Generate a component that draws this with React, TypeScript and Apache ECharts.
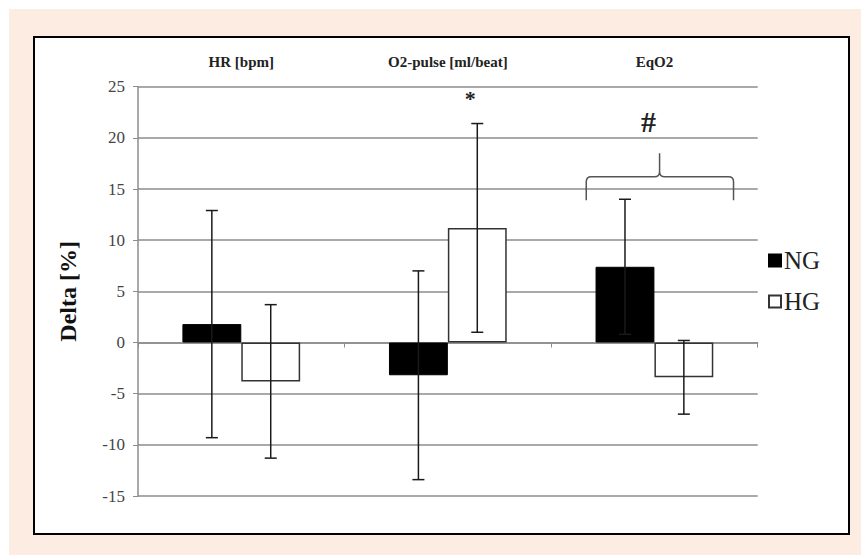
import React, { useEffect, useRef } from "react";
import * as echarts from "echarts";

const categories = ["HR [bpm]", "O2-pulse [ml/beat]", "EqO2"];
const ngMean = [1.8, -3.2, 7.4];
const ngSd = [11.1, 10.2, 6.6];
const hgMean = [-3.8, 11.2, -3.4];
const hgSd = [7.5, 10.2, 3.6];
const yMin = -15;
const yMax = 25;
const yInterval = 5;
// annotations: [categoryIndex, value, text]
const starMark = [1, 23.8, "*"];
const hashMark = [2, 21.6, "#"];
// brace over EqO2: [categoryIndex, tipValue, bodyValue, apexValue]
const braceMark = [2, 13.9, 16.2, 18.5];

const SERIF = "'Liberation Serif', 'Times New Roman', serif";
const BAR_FRAC = 0.285;

export default function App() {
  const ref = useRef<HTMLDivElement>(null);
  useEffect(() => {
    if (!ref.current) return;
    const chart = echarts.init(ref.current, undefined, { renderer: "svg" });

    const errRender = (side: number) => (params: any, api: any) => {
      const idx = api.value(0);
      const mean = api.value(1);
      const sd = api.value(2);
      const catW = api.size([1, 0])[0];
      const cx = api.coord([idx, mean])[0] + (side * catW * BAR_FRAC) / 2;
      const top = api.coord([idx, mean + sd])[1];
      const bot = api.coord([idx, mean - sd])[1];
      const cap = 6;
      const st = { stroke: "#1a1a1a", lineWidth: 1.5 };
      return {
        type: "group",
        children: [
          { type: "line", shape: { x1: cx, y1: top, x2: cx, y2: bot }, style: st },
          { type: "line", shape: { x1: cx - cap, y1: top, x2: cx + cap, y2: top }, style: st },
          { type: "line", shape: { x1: cx - cap, y1: bot, x2: cx + cap, y2: bot }, style: st },
        ],
      };
    };

    const annRender = (params: any, api: any) => {
      const catW = api.size([1, 0])[0];
      const sIdx = starMark[0] as number;
      const sPt = api.coord([sIdx, starMark[1]]);
      const sx = sPt[0] + (catW * BAR_FRAC) / 2 - 7;
      const hIdx = hashMark[0] as number;
      const hPt = api.coord([hIdx, hashMark[1]]);
      const bIdx = braceMark[0] as number;
      const c = api.coord([bIdx, braceMark[2]]);
      const tipY = api.coord([bIdx, braceMark[1]])[1];
      const bodyY = c[1];
      const apexY = api.coord([bIdx, braceMark[3]])[1];
      const left = c[0] - catW * 0.33;
      const right = c[0] + catW * 0.383;
      const apexX = c[0] + catW * 0.025;
      const r = 5;
      const d =
        `M${left},${tipY} L${left},${bodyY + r} Q${left},${bodyY} ${left + r},${bodyY} ` +
        `L${apexX - r},${bodyY} Q${apexX},${bodyY} ${apexX},${bodyY - r} L${apexX},${apexY} ` +
        `M${apexX},${bodyY - r} Q${apexX},${bodyY} ${apexX + r},${bodyY} ` +
        `L${right - r},${bodyY} Q${right},${bodyY} ${right},${bodyY + r} L${right},${tipY}`;
      return {
        type: "group",
        children: [
          {
            type: "path",
            shape: { pathData: d },
            style: { stroke: "#555", lineWidth: 1.5, fill: "none" },
          },
          {
            type: "text",
            x: sx,
            y: sPt[1],
            style: {
              text: starMark[2],
              fontFamily: SERIF,
              fontSize: 22,
              fontWeight: "bold",
              fill: "#222",
              align: "center",
              verticalAlign: "middle",
            },
          },
          {
            type: "text",
            x: hPt[0] - 6,
            y: hPt[1],
            style: {
              text: hashMark[2],
              fontFamily: SERIF,
              fontSize: 30,
              fontWeight: "bold",
              fill: "#222",
              align: "center",
              verticalAlign: "middle",
              backgroundColor: "#fff",
              padding: [0, 8],
            },
          },
        ],
      };
    };

    const option: any = {
      animation: false,
      backgroundColor: "#ffffff",
      graphic: [
        {
          type: "rect",
          z: -10,
          silent: true,
          shape: { x: 9, y: 9, width: 852, height: 546 },
          style: { fill: "#fdece2" },
        },
        {
          type: "rect",
          z: -9,
          silent: true,
          shape: { x: 34, y: 37, width: 815, height: 497 },
          style: { fill: "#ffffff", stroke: "#000", lineWidth: 2 },
        },
      ],
      grid: { left: 138, top: 86.7, right: 103.3, bottom: 59, containLabel: false },
      legend: {
        data: ["NG", "HG"],
        orient: "vertical",
        left: 763,
        top: 243,
        itemWidth: 12,
        itemHeight: 12,
        itemGap: 16,
        icon: "rect",
        textStyle: { fontFamily: SERIF, fontSize: 25, color: "#222", padding: [0, 0, 0, -2] },
      },
      xAxis: [
        {
          type: "category",
          data: categories,
          axisLine: { onZero: true, lineStyle: { color: "#8c8c8c", width: 1.5 } },
          axisTick: { show: true, length: 5, lineStyle: { color: "#8c8c8c" } },
          axisLabel: { show: false },
        },
        {
          type: "category",
          data: categories,
          position: "top",
          axisLine: { show: false },
          axisTick: { show: false },
          axisLabel: {
            margin: 17,
            fontFamily: SERIF,
            fontSize: 15,
            fontWeight: "bold",
            color: "#222",
          },
        },
      ],
      yAxis: {
        type: "value",
        min: yMin,
        max: yMax,
        interval: yInterval,
        name: "Delta [%]",
        nameLocation: "middle",
        nameGap: 58,
        nameTextStyle: { fontFamily: SERIF, fontSize: 24, fontWeight: "bold", color: "#111" },
        axisLine: { show: true, lineStyle: { color: "#8c8c8c", width: 1.5 } },
        axisTick: { show: true, length: 5, lineStyle: { color: "#8c8c8c" } },
        axisLabel: { margin: 13, fontFamily: SERIF, fontSize: 17, color: "#444" },
        splitLine: { show: true, lineStyle: { color: "#8c8c8c", width: 1.5 } },
      },
      series: [
        {
          name: "NG",
          type: "bar",
          data: ngMean,
          barWidth: BAR_FRAC * 100 + "%",
          barGap: "0%",
          itemStyle: { color: "#000", borderColor: "#000", borderWidth: 1 },
        },
        {
          name: "HG",
          type: "bar",
          data: hgMean,
          barWidth: BAR_FRAC * 100 + "%",
          barGap: "0%",
          itemStyle: { color: "#fff", borderColor: "#333", borderWidth: 1.5 },
        },
        {
          name: "NG-err",
          type: "custom",
          z: 5,
          data: ngMean.map((m, i) => [i, m, ngSd[i]]),
          encode: { x: 0, y: 1 },
          renderItem: errRender(-1),
        },
        {
          name: "HG-err",
          type: "custom",
          z: 5,
          data: hgMean.map((m, i) => [i, m, hgSd[i]]),
          encode: { x: 0, y: 1 },
          renderItem: errRender(1),
        },
        {
          name: "annotations",
          type: "custom",
          z: 6,
          data: [[braceMark[0], braceMark[2]]],
          encode: { x: 0, y: 1 },
          renderItem: annRender,
        },
      ],
    };
    chart.setOption(option);
    return () => chart.dispose();
  }, []);
  return (
    <div
      ref={ref}
      style={{ position: "fixed", left: 0, top: 0, width: 861, height: 555 }}
    />
  );
}
